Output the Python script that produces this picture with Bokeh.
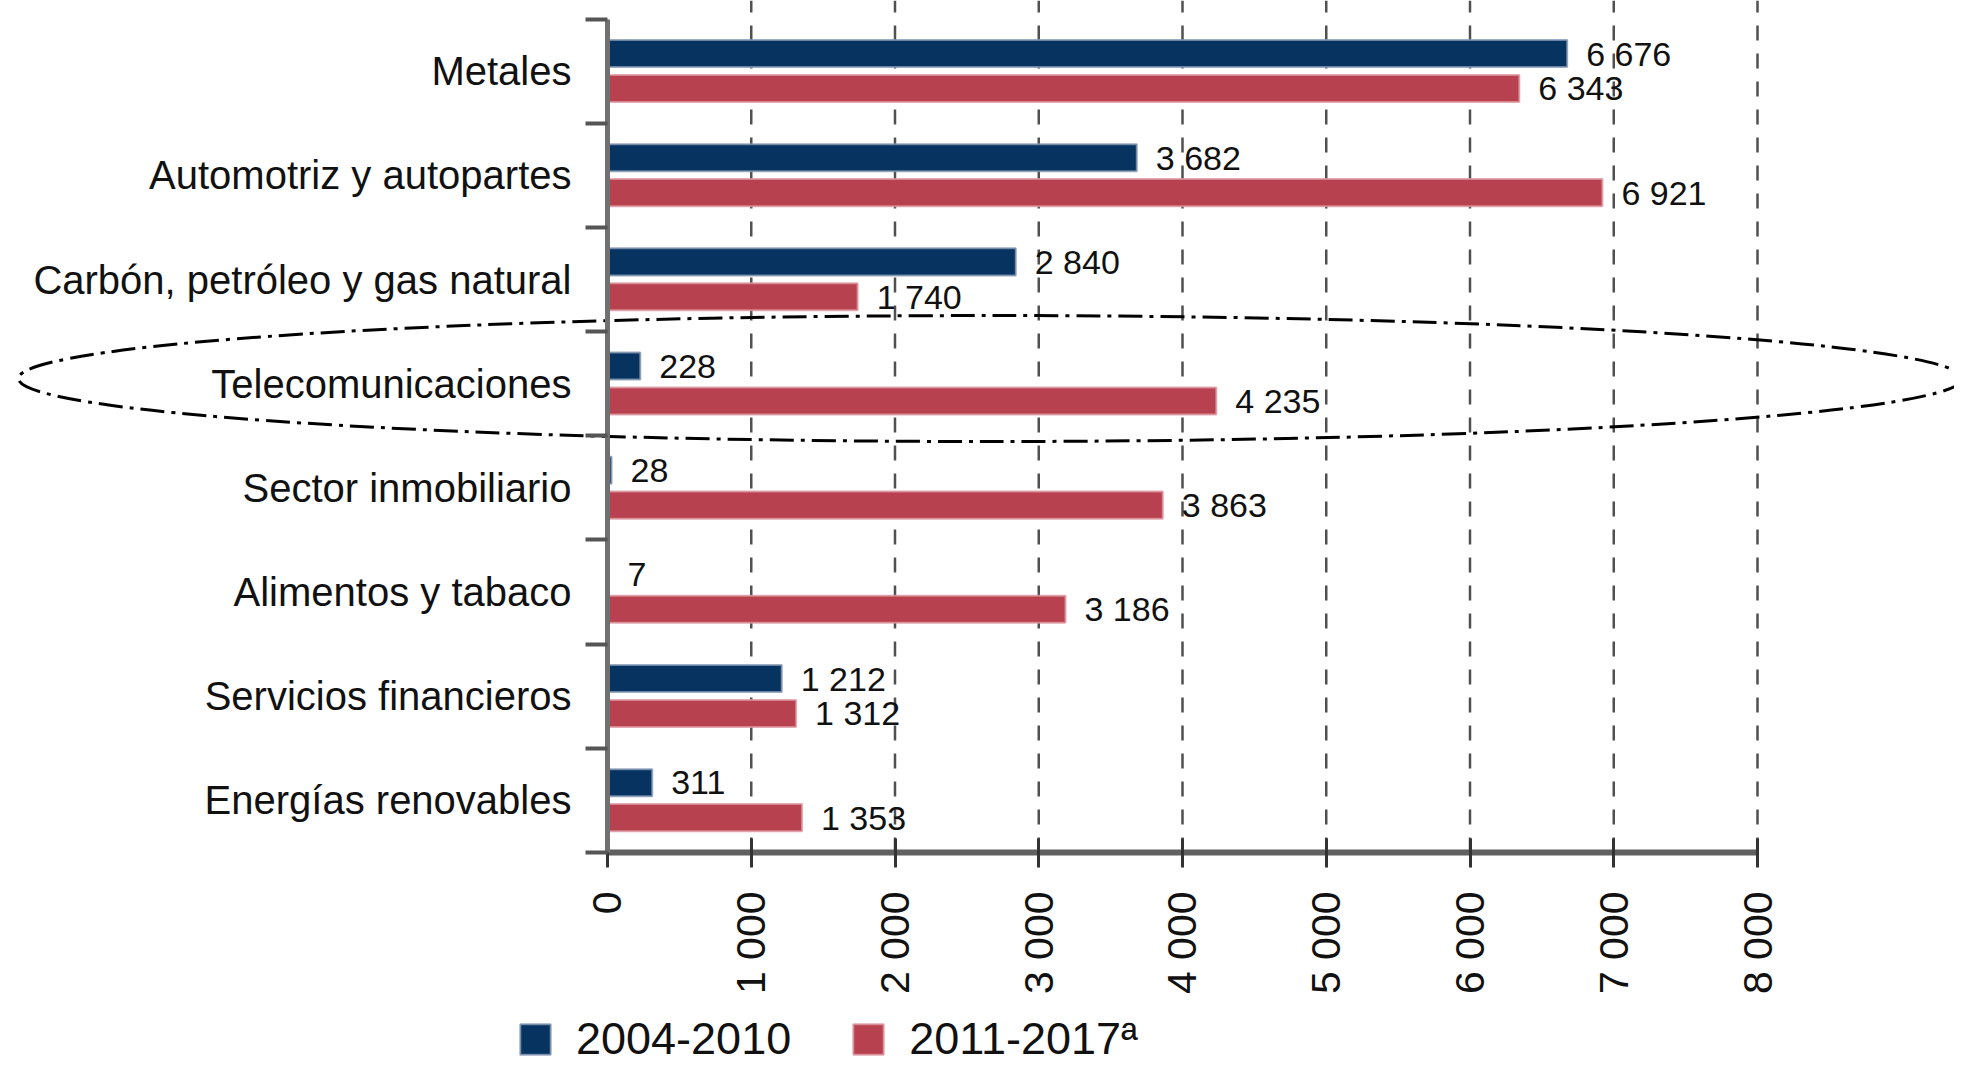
import math
from bokeh.plotting import figure
from bokeh.models import (Range1d, LinearAxis, FixedTicker, ColumnDataSource,
                          Legend, LegendItem)
from bokeh.core.properties import value
from bokeh.embed import file_html
from bokeh.resources import INLINE

# ---------------- data ----------------
categories = [
    "Metales",
    "Automotriz y autopartes",
    "Carbón, petróleo y gas natural",
    "Telecomunicaciones",
    "Sector inmobiliario",
    "Alimentos y tabaco",
    "Servicios financieros",
    "Energías renovables",
]
s2004_2010 = [6676, 3682, 2840, 228, 28, 7, 1212, 311]
s2011_2017 = [6343, 6921, 1740, 4235, 3863, 3186, 1312, 1353]
series_names = ["2004-2010", "2011-2017ª"]
x_ticks = [0, 1000, 2000, 3000, 4000, 5000, 6000, 7000, 8000]
x_tick_labels = ["0", "1 000", "2 000", "3 000", "4 000", "5 000", "6 000", "7 000", "8 000"]
highlight = "Telecomunicaciones"

# ---------------- style ----------------
FONT = "Liberation Sans"
BLUE = "#06335F"
RED = "#B8414F"

n = len(categories)
ypos = [n - 1 - k for k in range(n)]


def fmt(v):
    return f"{v:,}".replace(",", " ")


src = ColumnDataSource(dict(
    cat=categories,
    yb=[y + 0.17 for y in ypos],
    yr=[y - 0.165 for y in ypos],
    a=s2004_2010,
    b=s2011_2017,
    la=[fmt(v) for v in s2004_2010],
    lb=[fmt(v) for v in s2011_2017],
))

p = figure(width=1954, height=1068,
           x_range=Range1d(-4222.6, 9370.4), y_range=Range1d(-2.5735, 7.679),
           output_backend="svg", toolbar_location=None,
           x_axis_location=None, y_axis_location=None,
           min_border=0, outline_line_color=None)
p.min_border_left = p.min_border_right = p.min_border_top = p.min_border_bottom = 0
p.background_fill_color = "white"
p.border_fill_color = "white"
p.xgrid.grid_line_color = None
p.ygrid.grid_line_color = None

# vertical dashed grid lines at the tick values
grid_x = x_ticks[1:]
p.segment(x0=grid_x, y0=[-0.5] * len(grid_x), x1=grid_x, y1=[p.y_range.end] * len(grid_x),
          line_color="#505050", line_width=2.5, line_dash="15 13")

r1 = p.hbar(y="yb", left=0, right="a", height=0.26, source=src,
            fill_color=BLUE, line_color="#8397b3", line_width=2, line_alpha=0.8)
r2 = p.hbar(y="yr", left=0, right="b", height=0.26, source=src,
            fill_color=RED, line_color="#dc96a0", line_width=2, line_alpha=0.8)

p.text(x="a", y="yb", text="la", x_offset=19, source=src, text_baseline="middle",
       text_font=value(FONT), text_font_size="34px", text_color="#111111")
p.text(x="b", y="yr", text="lb", x_offset=19, source=src, text_baseline="middle",
       text_font=value(FONT), text_font_size="34px", text_color="#111111")

# highlight ellipse around the Telecomunicaciones row
hy = ypos[categories.index(highlight)]
p.ellipse(x=2664, y=hy + 0.05, width=1944, height=126,
          width_units="screen", height_units="screen",
          fill_color=None, line_color="black", line_width=3, line_dash="24 7 4 7")

# y axis (categories), ticks at category boundaries
yaxis = LinearAxis(fixed_location=0, bounds=(-0.5, n - 0.5),
                   ticker=FixedTicker(ticks=ypos, minor_ticks=[i - 0.5 for i in range(n + 1)]))
yaxis.major_label_overrides = {y: c for y, c in zip(ypos, categories)}
yaxis.major_tick_out = 0
yaxis.major_tick_in = 0
yaxis.minor_tick_out = 22
yaxis.minor_tick_in = 0
yaxis.minor_tick_line_width = 4
yaxis.minor_tick_line_color = "#555555"
yaxis.axis_line_width = 5
yaxis.axis_line_color = "#707070"
yaxis.major_label_standoff = 14
yaxis.major_label_text_font = FONT
yaxis.major_label_text_font_size = "40px"
yaxis.major_label_text_color = "#111111"
p.add_layout(yaxis, "left")

# x axis
xaxis = LinearAxis(fixed_location=-0.5, bounds=(0, 8000), ticker=FixedTicker(ticks=x_ticks))
xaxis.major_label_overrides = dict(zip(x_ticks, x_tick_labels))
xaxis.major_label_orientation = math.pi / 2
xaxis.major_tick_in = 14
xaxis.major_tick_out = 15
xaxis.major_tick_line_width = 3
xaxis.major_tick_line_color = "#333333"
xaxis.minor_tick_line_color = None
xaxis.axis_line_width = 6
xaxis.axis_line_color = "#606060"
xaxis.major_label_standoff = 24
xaxis.major_label_text_font = FONT
xaxis.major_label_text_font_size = "41px"
xaxis.major_label_text_color = "#111111"
p.add_layout(xaxis, "below")

legend = Legend(items=[LegendItem(label=series_names[0], renderers=[r1]),
                       LegendItem(label=series_names[1], renderers=[r2])],
                orientation="horizontal", location=(516, 3), padding=0, margin=0,
                spacing=58, label_standoff=22, glyph_width=38, glyph_height=38,
                label_text_font=FONT, label_text_font_size="45px",
                label_text_color="#111111",
                background_fill_alpha=0, border_line_color=None)
p.add_layout(legend)

open("out.html", "w").write(file_html(p, INLINE))
